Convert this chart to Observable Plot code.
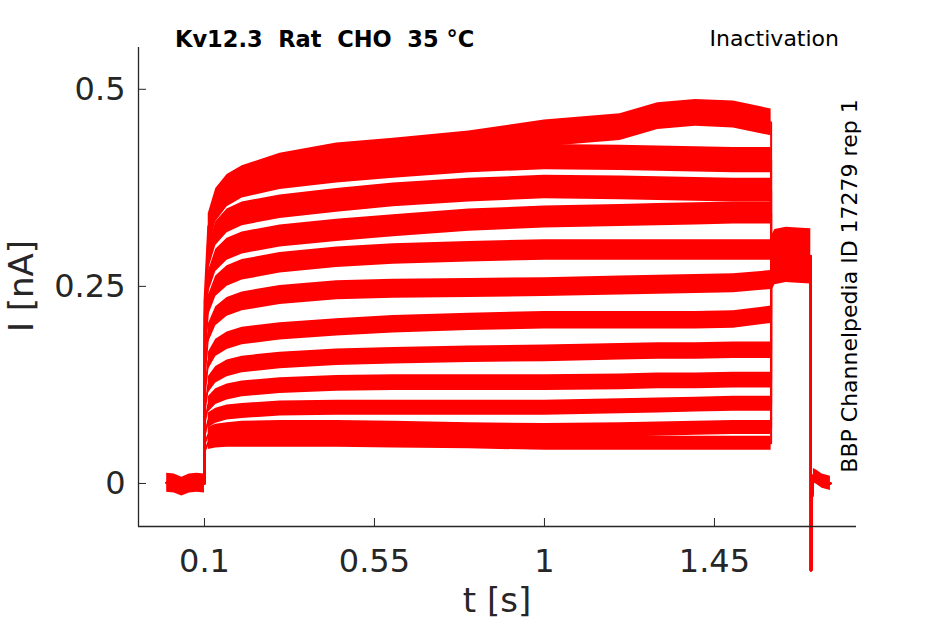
<!DOCTYPE html>
<html><head><meta charset="utf-8">
<script src="https://cdn.jsdelivr.net/npm/d3@7"></script>
<script src="https://cdn.jsdelivr.net/npm/@observablehq/plot@0.6"></script>
<style>body{margin:0;background:#fff}</style>
</head><body><div id="chart"></div>
<script>
// ---- data ----
const xTicks = [0.1, 0.55, 1, 1.45];
const yTicks = [0, 0.25, 0.5];
const xDomain = [-0.0746, 1.826];
const yDomain = [-0.0546, 0.553];

// holding segment before the step (s, nA)
const preT = [0.0, 0.02, 0.04, 0.06, 0.08, 0.1];
const preI = [0.001, 0.0, -0.004, 0.0, 0.001, 0.0];
const preNoise = 0.012;

// step segment: shared time samples, one current array per sweep (nA)
const stepT = [0.1, 0.11, 0.13, 0.16, 0.2, 0.3, 0.45, 0.6, 0.8, 1.0, 1.2, 1.3, 1.4, 1.5, 1.6];
const sweep01 = [0.040, 0.052, 0.054, 0.055, 0.055, 0.055, 0.055, 0.054, 0.053, 0.051, 0.051, 0.051, 0.051, 0.051, 0.051];
const sweep02 = [0.050, 0.062, 0.066, 0.068, 0.070, 0.071, 0.071, 0.070, 0.068, 0.067, 0.068, 0.069, 0.070, 0.071, 0.071];
const sweep03 = [0.060, 0.080, 0.086, 0.090, 0.092, 0.095, 0.096, 0.096, 0.096, 0.096, 0.098, 0.099, 0.100, 0.101, 0.101];
const sweep04 = [0.075, 0.100, 0.110, 0.116, 0.120, 0.124, 0.127, 0.128, 0.128, 0.128, 0.129, 0.130, 0.130, 0.131, 0.131];
const sweep05 = [0.090, 0.125, 0.138, 0.146, 0.151, 0.156, 0.160, 0.162, 0.164, 0.165, 0.167, 0.168, 0.168, 0.169, 0.169];
const sweep06 = [0.110, 0.155, 0.172, 0.181, 0.187, 0.193, 0.198, 0.202, 0.205, 0.207, 0.207, 0.207, 0.207, 0.208, 0.214];
const sweep07 = [0.130, 0.190, 0.212, 0.224, 0.231, 0.239, 0.245, 0.247, 0.248, 0.249, 0.251, 0.252, 0.253, 0.254, 0.258];
const sweep08 = [0.150, 0.225, 0.250, 0.263, 0.271, 0.280, 0.287, 0.291, 0.294, 0.296, 0.296, 0.296, 0.296, 0.296, 0.296];
const sweep09 = [0.170, 0.255, 0.283, 0.297, 0.305, 0.314, 0.321, 0.327, 0.334, 0.338, 0.340, 0.341, 0.342, 0.343, 0.343];
const sweep10 = [0.190, 0.285, 0.317, 0.333, 0.342, 0.351, 0.359, 0.366, 0.372, 0.376, 0.375, 0.374, 0.373, 0.372, 0.372];
const sweep11 = [0.210, 0.310, 0.348, 0.367, 0.378, 0.389, 0.397, 0.403, 0.410, 0.414, 0.413, 0.412, 0.411, 0.410, 0.410];
const sweep12 = [0.230, 0.325, 0.357, 0.375, 0.386, 0.402, 0.415, 0.421, 0.430, 0.444, 0.452, 0.466, 0.470, 0.468, 0.458];
const sweeps = [sweep01, sweep02, sweep03, sweep04, sweep05, sweep06, sweep07, sweep08, sweep09, sweep10, sweep11, sweep12];
// noise half-width of each sweep (nA)
const sweepNoise = [0.009, 0.009, 0.0095, 0.010, 0.0105, 0.011, 0.012, 0.013, 0.014, 0.015, 0.016, 0.017];

// tail segment (all sweeps overlap)
const tailT = [1.6, 1.61, 1.64, 1.67, 1.705];
const tailI = [0.278, 0.287, 0.290, 0.289, 0.288];
const tailNoise = 0.035;

// end: spike and return to baseline
const postT = [1.705, 1.7062, 1.708, 1.712, 1.72, 1.735, 1.757];
const postI = [-0.110, -0.110, -0.020, 0.010, 0.008, 0.003, 0.000];
const postNoise = 0.009;

// ---- build tables ----
const lineRows = [];
sweeps.forEach((s, k) => {
  preT.forEach((t, j) => lineRows.push({sweep: k, t, i: preI[j]}));
  stepT.forEach((t, j) => lineRows.push({sweep: k, t, i: s[j]}));
  tailT.forEach((t, j) => lineRows.push({sweep: k, t, i: tailI[j]}));
  postT.forEach((t, j) => lineRows.push({sweep: k, t, i: postI[j]}));
});
const bandRows = [];
preT.forEach((t, j) => bandRows.push({seg: "pre", t, lo: preI[j] - preNoise, hi: preI[j] + preNoise}));
sweeps.forEach((s, k) => stepT.forEach((t, j) => {
  if (j === 0) return;
  bandRows.push({seg: "s" + k, t, lo: s[j] - sweepNoise[k], hi: s[j] + sweepNoise[k]});
}));
tailT.forEach((t, j) => bandRows.push({seg: "tail", t, lo: tailI[j] - tailNoise, hi: tailI[j] + tailNoise}));
postT.forEach((t, j) => { if (j > 2) bandRows.push({seg: "post", t, lo: postI[j] - postNoise, hi: postI[j] + postNoise}); });

const axisColor = "#262626";
const svg = Plot.plot({
  width: 945,
  height: 624,
  marginLeft: 138,
  marginRight: 89,
  marginTop: 47,
  marginBottom: 98,
  style: {fontFamily: "DejaVu Sans", color: axisColor, background: "#fff"},
  x: {domain: xDomain},
  y: {domain: yDomain},
  marks: [
    Plot.areaY(bandRows, {x: "t", y1: "lo", y2: "hi", z: "seg", fill: "#ff0000", curve: "linear"}),
    Plot.line(lineRows, {x: "t", y: "i", z: "sweep", stroke: "#ff0000", strokeWidth: 2}),
    Plot.ruleX([xDomain[0]], {stroke: axisColor, strokeWidth: 1.3}),
    Plot.ruleY([yDomain[0]], {stroke: axisColor, strokeWidth: 1.3}),
    Plot.axisX(xTicks, {anchor: "bottom", tickSize: -8, tickPadding: 31, fontSize: 32, label: null, tickFormat: d => String(d), stroke: axisColor, fill: axisColor}),
    Plot.axisY(yTicks, {anchor: "left", tickSize: -8, tickPadding: 21, fontSize: 32, label: null, tickFormat: d => String(d), stroke: axisColor, fill: axisColor})
  ]
});
document.getElementById("chart").appendChild(svg);

const s = d3.select(svg);
const addText = (txt, attrs) => {
  const el = s.append("text").text(txt).style("white-space", "pre").attr("font-family", "DejaVu Sans").attr("text-anchor", "start");
  Object.entries(attrs).forEach(([k, v]) => el.attr(k, v));
  return el;
};
addText("Kv12.3  Rat  CHO  35 °C", {x: 175, y: 47, "font-size": 22.5, "font-weight": "bold", fill: "#000"});
addText("Inactivation", {x: 839, y: 46, "font-size": 22, "text-anchor": "end", fill: "#000"});
addText("BBP Channelpedia ID 17279 rep 1", {transform: "translate(857,286) rotate(-90)", "font-size": 22, "text-anchor": "middle", fill: "#000"});
addText("t [s]", {x: 497, y: 612, "font-size": 34, "text-anchor": "middle", fill: axisColor});
addText("I [nA]", {transform: "translate(33,286) rotate(-90)", "font-size": 34, "text-anchor": "middle", fill: axisColor});
</script>
</body></html>
